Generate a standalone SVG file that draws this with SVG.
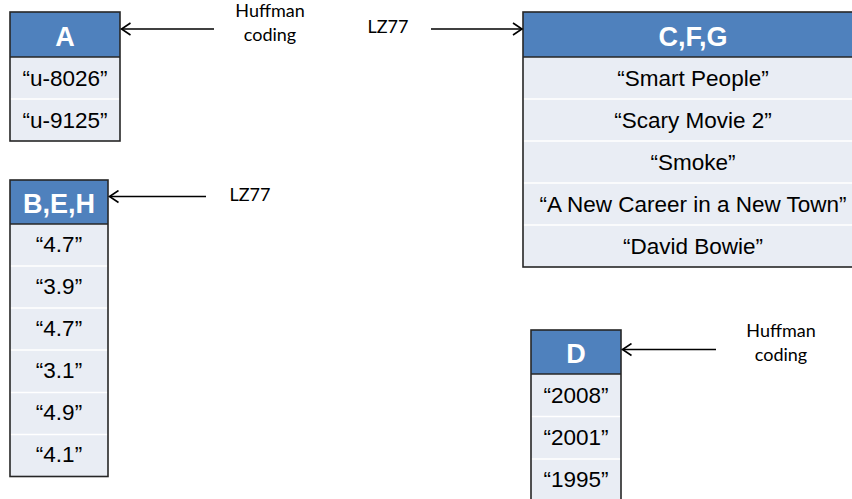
<svg xmlns="http://www.w3.org/2000/svg" width="852" height="499" viewBox="0 0 852 499">
<defs>
<marker id="open" markerWidth="12" markerHeight="14" refX="10" refY="7" orient="auto" markerUnits="userSpaceOnUse">
<path d="M1,1 L10,7 L1,13" fill="none" stroke="#000" stroke-width="1.6"/>
</marker>
</defs>
<style>
.hdr{fill:#4F81BD}
.row{fill:#E9EDF4}
.div{stroke:#FFFFFF;stroke-width:1.5}
.frame{fill:none;stroke:#262626;stroke-width:1.6}
.ht{font-family:"Liberation Sans",Arial,sans-serif;font-weight:bold;font-size:27px;fill:#FFFFFF;text-anchor:middle}
.bt{font-family:"Liberation Sans",Arial,sans-serif;font-size:22.5px;fill:#000;text-anchor:middle}
.lbl{font-family:Lato,"Open Sans",sans-serif;font-size:18px;fill:#000;text-anchor:middle}
.conn{stroke:#000;stroke-width:1.6;fill:none;marker-end:url(#open)}
</style>
<rect width="852" height="499" fill="#FFFFFF"/>

<g id="table-A">
<rect class="hdr" x="10" y="12" width="110" height="45"/>
<rect class="row" x="10" y="57" width="110" height="84"/>
<line class="div" x1="10" y1="99" x2="120" y2="99"/>
<line x1="10" y1="57" x2="120" y2="57" stroke="#262626" stroke-width="1.6"/>
<rect class="frame" x="10" y="12" width="110" height="129"/>
<text class="ht" x="65" y="45.5">A</text>
<text class="bt" x="65" y="86">“u-8026”</text>
<text class="bt" x="65" y="128">“u-9125”</text>
</g>

<g id="table-BEH">
<rect class="hdr" x="10" y="180" width="98" height="44"/>
<rect class="row" x="10" y="224" width="98" height="252.5"/>
<line class="div" x1="10" y1="266" x2="108" y2="266"/>
<line class="div" x1="10" y1="308" x2="108" y2="308"/>
<line class="div" x1="10" y1="350" x2="108" y2="350"/>
<line class="div" x1="10" y1="392.5" x2="108" y2="392.5"/>
<line class="div" x1="10" y1="434.5" x2="108" y2="434.5"/>
<line x1="10" y1="224" x2="108" y2="224" stroke="#262626" stroke-width="1.6"/>
<rect class="frame" x="10" y="180" width="98" height="296.5"/>
<text class="ht" x="59" y="213">B,E,H</text>
<text class="bt" x="59" y="252">“4.7”</text>
<text class="bt" x="59" y="294">“3.9”</text>
<text class="bt" x="59" y="336">“4.7”</text>
<text class="bt" x="59" y="378">“3.1”</text>
<text class="bt" x="59" y="420">“4.9”</text>
<text class="bt" x="59" y="462">“4.1”</text>
</g>

<g id="table-CFG">
<rect class="hdr" x="523" y="12" width="340" height="45"/>
<rect class="row" x="523" y="57" width="340" height="210"/>
<line class="div" x1="523" y1="99" x2="863" y2="99"/>
<line class="div" x1="523" y1="141" x2="863" y2="141"/>
<line class="div" x1="523" y1="183" x2="863" y2="183"/>
<line class="div" x1="523" y1="225" x2="863" y2="225"/>
<line x1="523" y1="57" x2="863" y2="57" stroke="#262626" stroke-width="1.6"/>
<rect class="frame" x="523" y="12" width="340" height="255"/>
<text class="ht" x="693" y="45.5">C,F,G</text>
<text class="bt" x="693" y="86">“Smart People”</text>
<text class="bt" x="693" y="128">“Scary Movie 2”</text>
<text class="bt" x="693" y="170">“Smoke”</text>
<text class="bt" x="693" y="212">“A New Career in a New Town”</text>
<text class="bt" x="693" y="254">“David Bowie”</text>
</g>

<g id="table-D">
<rect class="hdr" x="531" y="330" width="90" height="44"/>
<rect class="row" x="531" y="374" width="90" height="130"/>
<line class="div" x1="531" y1="416.5" x2="621" y2="416.5"/>
<line class="div" x1="531" y1="459" x2="621" y2="459"/>
<line x1="531" y1="374" x2="621" y2="374" stroke="#262626" stroke-width="1.6"/>
<rect class="frame" x="531" y="330" width="90" height="175"/>
<text class="ht" x="576" y="363">D</text>
<text class="bt" x="576" y="403">“2008”</text>
<text class="bt" x="576" y="445">“2001”</text>
<text class="bt" x="576" y="487">“1995”</text>
</g>

<g id="connectors">
<line class="conn" x1="214" y1="29" x2="121.5" y2="29"/>
<line class="conn" x1="431" y1="29" x2="522" y2="29"/>
<line class="conn" x1="206" y1="196.5" x2="109.5" y2="196.5"/>
<line class="conn" x1="716" y1="349.5" x2="622.5" y2="349.5"/>
</g>

<g id="labels">
<text class="lbl" x="270" y="16.5">Huffman</text>
<text class="lbl" x="270" y="40.5">coding</text>
<text class="lbl" x="388" y="33">LZ77</text>
<text class="lbl" x="250" y="200.5">LZ77</text>
<text class="lbl" x="781" y="336.5">Huffman</text>
<text class="lbl" x="781" y="360.5">coding</text>
</g>
</svg>
